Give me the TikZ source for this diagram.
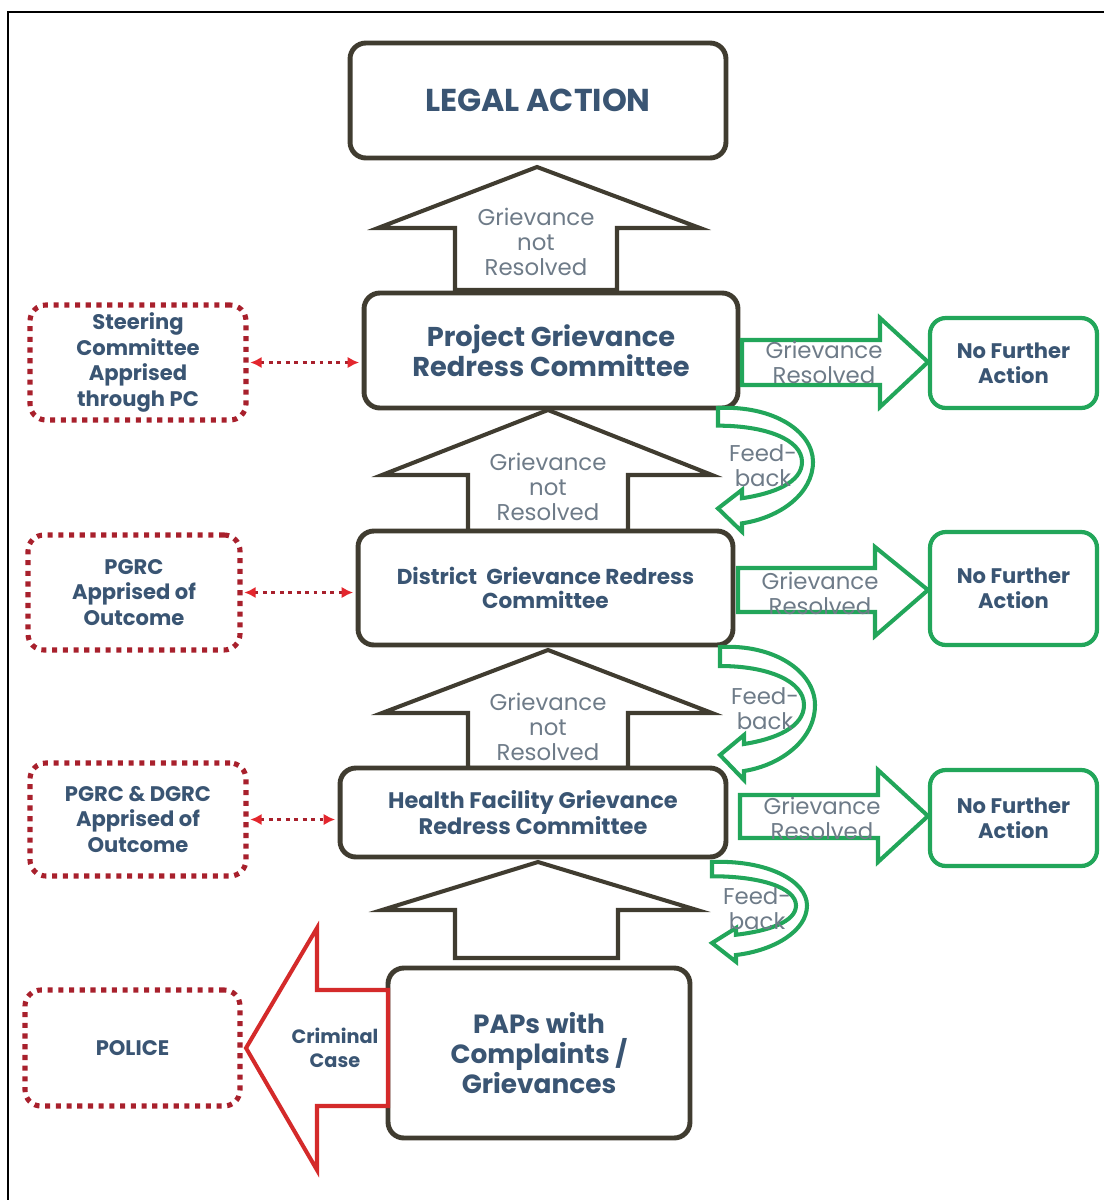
\documentclass[tikz,border=0pt]{standalone}
\usepackage{fontspec}
\setmainfont{Poppins}
\usetikzlibrary{calc}
\usetikzlibrary{arrows.meta}
\definecolor{boxline}{HTML}{403C30}
\definecolor{textblue}{HTML}{3A5573}
\definecolor{textgray}{HTML}{6E7B88}
\definecolor{resgreen}{HTML}{22A65A}
\definecolor{dotred}{HTML}{A8202C}
\definecolor{tipred}{HTML}{E3262D}
\definecolor{casered}{HTML}{D42A2A}

\newcommand{\feedback}[4]{%
  \begin{scope}[shift={(#1,#2)}, yscale=#3]
    \draw[resolved] (0,0) .. controls (55,-3) and (95,25) .. (95,58)
      .. controls (95,92) and (62,118) .. (24,124) -- (24,133) -- (0,108) -- (24,88) -- (24,97)
      .. controls (56,92) and (84,80) .. (84,58) .. controls (84,34) and (48,19) .. (0,19) -- cycle;
    \node[note] (#4) at (45,62) {Feed-\\back};
  \end{scope}}

\begin{document}
\begin{tikzpicture}[x=0.02cm, y=-0.02cm]
    \tikzstyle{committee} = [draw=boxline, line width=2.8pt, rounded corners=9pt, fill=white, text=textblue, align=center, inner sep=0pt]
    \tikzstyle{apprised} = [draw=dotred, line width=2.9pt, dash pattern=on 2.9pt off 3.2pt, rounded corners=9pt, fill=white, text=textblue, align=center, inner sep=0pt, font=\fontsize{12}{14.7}\selectfont\bfseries]
    \tikzstyle{outcome} = [draw=resgreen, line width=2.4pt, rounded corners=9pt, fill=white, text=textblue, align=center, inner sep=0pt, minimum width=3.34cm, font=\fontsize{12}{14.2}\selectfont\bfseries]
    \tikzstyle{blockup} = [draw=boxline, line width=2.3pt, fill=white]
    \tikzstyle{resolved} = [draw=resgreen, line width=2.3pt, fill=white]
    \tikzstyle{note} = [text=textgray, align=center, font=\fontsize{13}{14.2}\selectfont]
    \tikzstyle{link} = [dotred, line width=2.2pt, dash pattern=on 2.2pt off 2.6pt, shorten <=1pt, shorten >=1.4pt, {Latex[color=tipred, length=6.5pt, width=6.5pt]}-{Latex[color=tipred, length=6.5pt, width=6.5pt]}]

    % frame
    \useasboundingbox (0,0) rectangle (1104,1200);
    \draw[line width=1.2pt] (8,1200) -- (8,12) -- (1104,12);

    % grievance not resolved
    \draw[blockup] (455,290) -- (455,228) -- (378,228) -- (537,167) -- (700,228) -- (617,228) -- (617,290) -- cycle;
    \draw[blockup] (468,531) -- (468,475) -- (382,475) -- (548,410) -- (712,475) -- (628,475) -- (628,531) -- cycle;
    \draw[blockup] (468,768) -- (468,713) -- (382,713) -- (548,650) -- (712,713) -- (628,713) -- (628,768) -- cycle;
    \draw[blockup] (455,958) -- (455,910) -- (382,910) -- (538,862) -- (697,910) -- (618,910) -- (618,958) -- cycle;
    \node[note] (up1) at (536,242) {Grievance\\not\\Resolved};
    \node[note] (up2) at (548,487) {Grievance\\not\\Resolved};
    \node[note] (up3) at (548,727) {Grievance\\not\\Resolved};

    % committees
    \node[committee, minimum width=7.52cm, minimum height=2.3cm, font=\fontsize{18}{21}\selectfont\bfseries] (legal) at (538,100.5) {LEGAL ACTION};
    \node[committee, minimum width=7.48cm, minimum height=2.3cm, font=\fontsize{15.5}{17}\selectfont\bfseries] (pgrc) at (551,350.5) {Project Grievance\\Redress Committee};
    \node[committee, minimum width=7.5cm, minimum height=2.28cm, font=\fontsize{12.3}{13.6}\selectfont\bfseries] (dgrc) at (545.5,588) {District~ Grievance Redress\\Committee};
    \node[committee, minimum width=7.72cm, minimum height=1.78cm, font=\fontsize{12.8}{13.6}\selectfont\bfseries] (hfgrc) at (533,812.5) {Health Facility Grievance\\Redress Committee};
    \node[committee, minimum width=6.04cm, minimum height=3.4cm, font=\fontsize{15}{17}\selectfont\bfseries] (paps) at (539,1053) {PAPs with\\Complaints /\\Grievances};

    % apprised
    \node[apprised, minimum width=4.32cm, minimum height=2.3cm] (steer) at (138,362.5) {Steering\\Committee\\Apprised\\through PC};
    \node[apprised, minimum width=4.24cm, minimum height=2.3cm] (pgrcinfo) at (134,592.5) {PGRC\\Apprised of\\Outcome};
    \node[apprised, minimum width=4.32cm, minimum height=2.26cm] (bothinfo) at (138,819.5) {PGRC \& DGRC\\Apprised of\\Outcome};
    \node[apprised, minimum width=4.3cm, minimum height=2.32cm] (police) at (132.5,1048) {POLICE};
    \draw[link] (steer.east) -- (steer.east -| pgrc.west);
    \draw[link] (pgrcinfo.east) -- (pgrcinfo.east -| dgrc.west);
    \draw[link] (bothinfo.east) -- (bothinfo.east -| hfgrc.west);

    % resolved
    \node[outcome, minimum height=1.8cm] (nfa1) at (1013.5,363) {No Further\\Action};
    \node[outcome, minimum height=2.26cm] (nfa2) at (1013.5,588.5) {No Further\\Action};
    \node[outcome, minimum height=1.92cm] (nfa3) at (1013.5,818) {No Further\\Action};
    \draw[resolved] (742,340) -- (880,340) -- (880,318) -- (928,362) -- (880,407) -- (880,385) -- (742,385) -- cycle;
    \draw[resolved] (738,568) -- (875,568) -- (875,547) -- (928,590) -- (875,636) -- (875,612) -- (738,612) -- cycle;
    \draw[resolved] (740,795) -- (878,795) -- (878,770) -- (928,816) -- (878,862) -- (878,838) -- (740,838) -- cycle;
    \node[note] (res1) at (824,362) {Grievance\\Resolved};
    \node[note] (res2) at (820,593) {Grievance\\Resolved};
    \node[note] (res3) at (822,818) {Grievance\\Resolved};

    % feedback
    \feedback{718}{408}{0.93}{fb1}
    \feedback{720}{647}{1}{fb2}
    \feedback{712}{862}{0.75}{fb3}

    % criminal case
    \draw[draw=casered, line width=2.3pt, fill=white] (388,990) -- (317,990) -- (317,928) -- (246,1048) -- (317,1170) -- (317,1106) -- (388,1106) -- cycle;
    \node[text=textblue, align=center, font=\fontsize{11}{14}\selectfont\bfseries] (crime) at (335,1048) {Criminal\\Case};
\end{tikzpicture}
\end{document}
